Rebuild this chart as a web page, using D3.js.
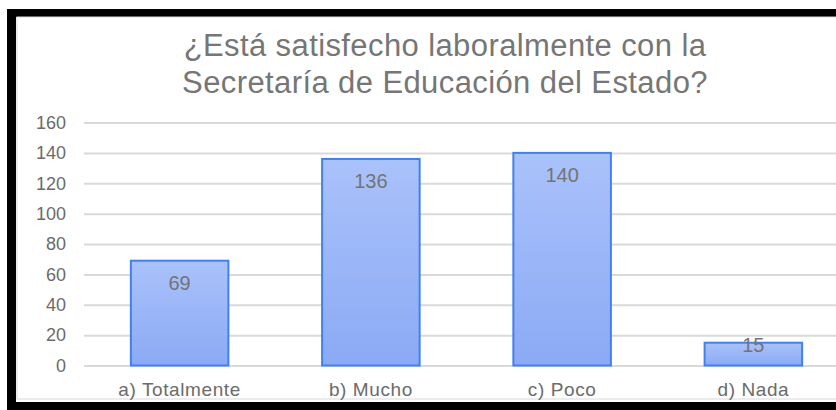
<!DOCTYPE html>
<html lang="es">
<head>
  <meta charset="UTF-8">
  <title>¿Está satisfecho laboralmente con la Secretaría de Educación del Estado?</title>
  <script src="https://d3js.org/d3.v7.min.js"></script>
  <style>
    html, body { margin: 0; padding: 0; background: #fff; }
    svg { display: block; }
    text { font-family: "Liberation Sans", Arial, sans-serif; }
  </style>
</head>
<body>
  <div id="chart"></div>
  <script>
    // datos
    const categories = ["a) Totalmente", "b) Mucho", "c) Poco", "d) Nada"];
    const values = [69, 136, 140, 15];
    const yTicks = [0, 20, 40, 60, 80, 100, 120, 140, 160];
    const titleLines = [
      "¿Está satisfecho laboralmente con la",
      "Secretaría de Educación del Estado?"
    ];

    const width = 836;
    const height = 410;
    const plot = {left: 84, right: 849, top: 122.5, bottom: 365.5};

    const svg = d3.select("#chart")
      .append("svg")
      .attr("width", width)
      .attr("height", height);

    // marco negro
    svg.append("rect")
      .attr("x", 7).attr("y", 9)
      .attr("width", width).attr("height", height)
      .attr("fill", "#000");
    svg.append("rect")
      .attr("x", 16).attr("y", 17)
      .attr("width", width).attr("height", 385)
      .attr("fill", "#fff");
    // borde del área de gráfico
    svg.append("rect")
      .attr("x", 17).attr("y", 17)
      .attr("width", width).attr("height", 382)
      .attr("fill", "none")
      .attr("stroke", "#d9d9d9")
      .attr("stroke-width", 1);

    const defs = svg.append("defs");
    const grad = defs.append("linearGradient")
      .attr("id", "barGrad")
      .attr("x1", 0).attr("y1", 0).attr("x2", 0).attr("y2", 1);
    grad.append("stop").attr("offset", "0%").attr("stop-color", "#aac2fb");
    grad.append("stop").attr("offset", "100%").attr("stop-color", "#8baaf5");

    const x = d3.scaleBand()
      .domain(categories)
      .range([plot.left, plot.right])
      .paddingInner(0.49)
      .paddingOuter(0.245);

    const y = d3.scaleLinear()
      .domain([0, 160])
      .range([plot.bottom, plot.top]);

    // líneas de cuadrícula
    svg.append("g")
      .attr("transform", `translate(${plot.left},0)`)
      .call(d3.axisLeft(y)
        .tickValues(yTicks)
        .tickSize(-(plot.right - plot.left))
        .tickFormat(""))
      .call(g => g.select(".domain").remove())
      .selectAll("line")
      .attr("stroke", "#d9d9d9")
      .attr("stroke-width", 2);

    // etiquetas eje Y
    svg.append("g")
      .attr("transform", `translate(66,0)`)
      .call(d3.axisLeft(y).tickValues(yTicks).tickSize(0).tickPadding(0))
      .call(g => g.select(".domain").remove())
      .selectAll("text")
      .attr("font-size", 18)
      .attr("fill", "#6b6b6b")
      .attr("font-family", "Liberation Sans, Arial, sans-serif");

    // barras
    const data = categories.map((c, i) => ({cat: c, value: values[i]}));

    svg.append("g")
      .selectAll("rect")
      .data(data)
      .join("rect")
        .attr("x", d => x(d.cat))
        .attr("y", d => y(d.value))
        .attr("width", x.bandwidth())
        .attr("height", d => y(0) - y(d.value))
        .attr("fill", "url(#barGrad)")
        .attr("stroke", "#4081ee")
        .attr("stroke-width", 2);

    // etiquetas de datos (dentro del extremo)
    svg.append("g")
      .selectAll("text")
      .data(data)
      .join("text")
        .attr("x", d => x(d.cat) + x.bandwidth() / 2)
        .attr("y", d => {
          const top = y(d.value);
          const h = y(0) - top;
          return h > 44 ? top + 22 : top + 2;
        })
        .attr("dy", "0.35em")
        .attr("text-anchor", "middle")
        .attr("font-size", 20)
        .attr("fill", "#747474")
        .text(d => d.value);

    // eje X
    svg.append("g")
      .attr("transform", `translate(0,${plot.bottom})`)
      .call(d3.axisBottom(x).tickSize(0).tickPadding(0))
      .call(g => g.select(".domain").remove())
      .selectAll("text")
      .attr("y", 30)
      .attr("dy", 0)
      .attr("font-size", 19)
      .attr("letter-spacing", "0.6px")
      .attr("fill", "#6b6b6b")
      .attr("font-family", "Liberation Sans, Arial, sans-serif");

    // título
    svg.append("g")
      .selectAll("text")
      .data(titleLines)
      .join("text")
        .attr("x", 445)
        .attr("y", (d, i) => 56 + i * 37)
        .attr("text-anchor", "middle")
        .attr("font-size", 31)
        .attr("letter-spacing", "0.4px")
        .attr("fill", "#767676")
        .text(d => d);
  </script>
</body>
</html>
